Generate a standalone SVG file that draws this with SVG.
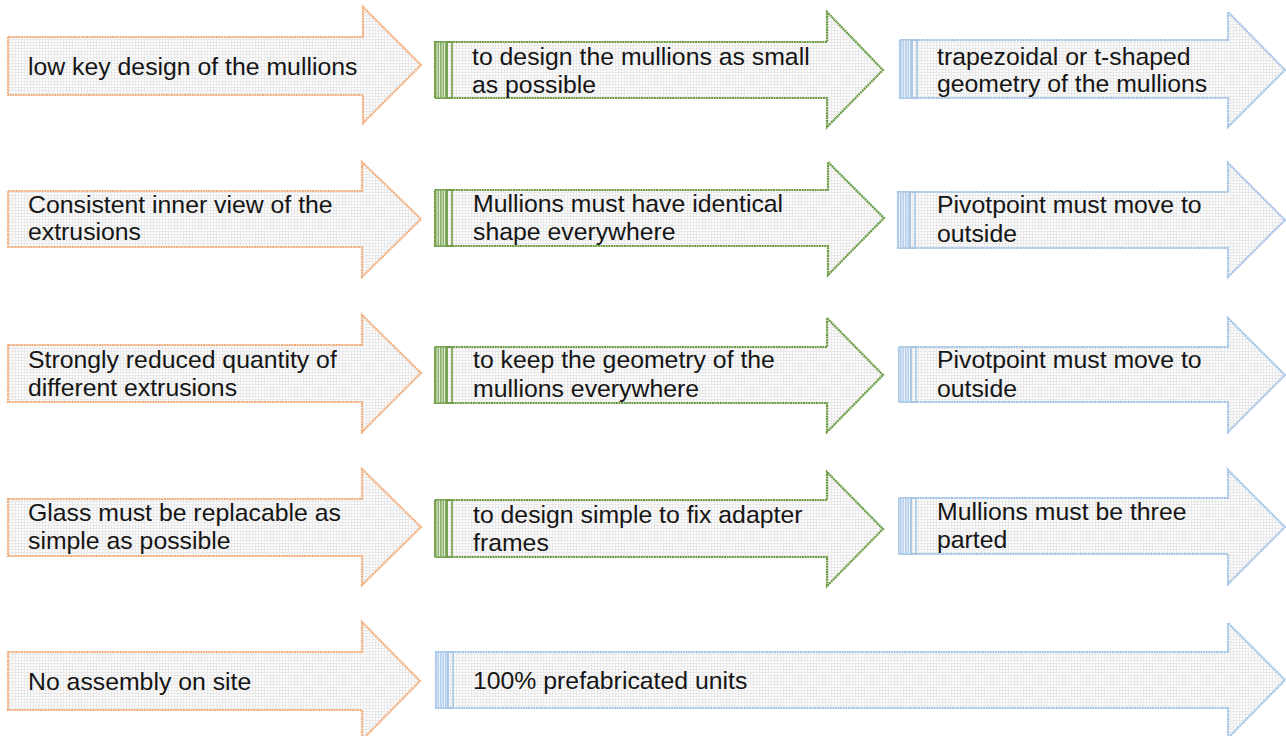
<svg xmlns="http://www.w3.org/2000/svg" width="1286" height="736" viewBox="0 0 1286 736">
<defs>
<pattern id="grid" width="3" height="3" patternUnits="userSpaceOnUse">
<rect width="3" height="3" fill="#fcfcfc"/>
<path d="M0 0.5H3M0.5 0V3" stroke="#e9e9e9" stroke-width="1"/>
</pattern>
<pattern id="gStripe" width="2.5" height="3" patternUnits="userSpaceOnUse">
<rect width="2.5" height="3" fill="#e8f0e0"/>
<path d="M0.8 0V3" stroke="#6e9b45" stroke-width="1.2"/>
</pattern>
<pattern id="bStripe" width="2.5" height="3" patternUnits="userSpaceOnUse">
<rect width="2.5" height="3" fill="#eef4fb"/>
<path d="M0.8 0V3" stroke="#a3c4e6" stroke-width="1.2"/>
</pattern>
</defs>
<style>
.arr{fill:url(#grid);stroke-width:2.2;stroke-dasharray:2 0.6;stroke-linejoin:miter}
.o{stroke:#f3b07f}
.g{stroke:#6b9a40}
.b{stroke:#a3c4e6}
.gs{fill:url(#gStripe);stroke:#6b9a40;stroke-width:1}
.bs{fill:url(#bStripe);stroke:#a3c4e6;stroke-width:1}
.gl{fill:none;stroke:#6b9a40;stroke-width:1.5}
.bl{fill:none;stroke:#a3c4e6;stroke-width:1.5}
text{font-family:"Liberation Sans",Arial,sans-serif;font-size:24.8px;fill:#151515}
</style>
<rect width="1286" height="736" fill="#ffffff"/>
<g id="connectors"></g>

<g id="r1-orange">
<path class="arr o" d="M8 37H363V7L421 65L363 123V95H8Z"/>
<text x="28" y="75">low key design of the mullions</text>
</g>
<g id="r1-green">
<path class="arr g" d="M435 42H827V12L883 70L827 127V98H435Z"/>
<rect class="gs" x="435" y="42" width="12" height="56"/>
<rect class="gl" x="447" y="42" width="5" height="56"/>
<text x="472" y="65">to design the mullions as small</text>
<text x="472" y="93">as possible</text>
</g>
<g id="r1-blue">
<path class="arr b" d="M900 40H1228V12L1285 70L1228 127V98H900Z"/>
<rect class="bs" x="900" y="40" width="12" height="58"/>
<rect class="bl" x="912" y="40" width="5" height="58"/>
<text x="937" y="65">trapezoidal or t-shaped</text>
<text x="937" y="92">geometry of the mullions</text>
</g>

<g id="r2-orange">
<path class="arr o" d="M8 191H362V162L421 219L362 277V247H8Z"/>
<text x="28" y="213">Consistent inner view of the</text>
<text x="28" y="240">extrusions</text>
</g>
<g id="r2-green">
<path class="arr g" d="M435 190H828V162L884 218L828 275V246H435Z"/>
<rect class="gs" x="435" y="190" width="12" height="56"/>
<rect class="gl" x="447" y="190" width="5" height="56"/>
<text x="473" y="212">Mullions must have identical</text>
<text x="473" y="240">shape everywhere</text>
</g>
<g id="r2-blue">
<path class="arr b" d="M898 192H1228V163L1285 220L1228 277V248H898Z"/>
<rect class="bs" x="898" y="192" width="12" height="56"/>
<rect class="bl" x="910" y="192" width="5" height="56"/>
<text x="937" y="213">Pivotpoint must move to</text>
<text x="937" y="242">outside</text>
</g>

<g id="r3-orange">
<path class="arr o" d="M8 345H362V315L421 373L362 432V402H8Z"/>
<text x="28" y="368">Strongly reduced quantity of</text>
<text x="28" y="396">different extrusions</text>
</g>
<g id="r3-green">
<path class="arr g" d="M435 347H827V318L883 375L827 432V403H435Z"/>
<rect class="gs" x="435" y="347" width="12" height="56"/>
<rect class="gl" x="447" y="347" width="5" height="56"/>
<text x="473" y="368">to keep the geometry of the</text>
<text x="473" y="397">mullions everywhere</text>
</g>
<g id="r3-blue">
<path class="arr b" d="M899 347H1228V318L1285 375L1228 432V402H899Z"/>
<rect class="bs" x="899" y="347" width="12" height="55"/>
<rect class="bl" x="911" y="347" width="5" height="55"/>
<text x="937" y="368">Pivotpoint must move to</text>
<text x="937" y="397">outside</text>
</g>

<g id="r4-orange">
<path class="arr o" d="M8 499H362V469L421 527L362 585V556H8Z"/>
<text x="28" y="521">Glass must be replacable as</text>
<text x="28" y="549">simple as possible</text>
</g>
<g id="r4-green">
<path class="arr g" d="M435 500H827V472L883 529L827 586V557H435Z"/>
<rect class="gs" x="435" y="500" width="12" height="57"/>
<rect class="gl" x="447" y="500" width="5" height="57"/>
<text x="473" y="523">to design simple to fix adapter</text>
<text x="473" y="551">frames</text>
</g>
<g id="r4-blue">
<path class="arr b" d="M899 498H1228V470L1285 527L1228 584V554H899Z"/>
<rect class="bs" x="899" y="498" width="12" height="56"/>
<rect class="bl" x="911" y="498" width="5" height="56"/>
<text x="937" y="520">Mullions must be three</text>
<text x="937" y="548">parted</text>
</g>

<g id="r5-orange">
<path class="arr o" d="M8 652H362V622L420 681L362 740V710H8Z"/>
<text x="28" y="690">No assembly on site</text>
</g>
<g id="r5-blue">
<path class="arr b" d="M436 652H1228V623L1285 680L1228 738V708H436Z"/>
<rect class="bs" x="436" y="652" width="12" height="56"/>
<rect class="bl" x="448" y="652" width="5" height="56"/>
<text x="473" y="689">100% prefabricated units</text>
</g>
</svg>
